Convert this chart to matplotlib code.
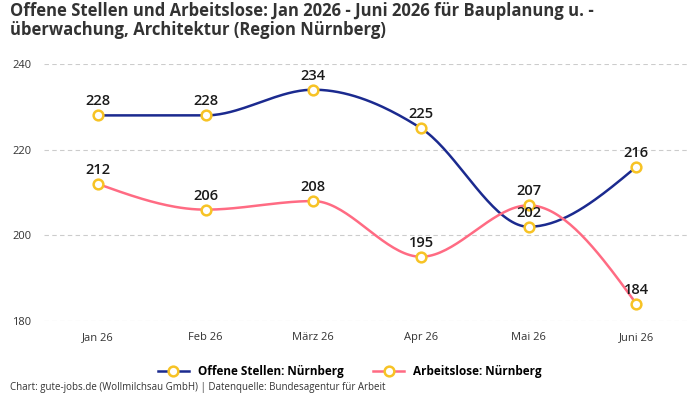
import numpy as np
import matplotlib.pyplot as plt
from matplotlib.lines import Line2D

plt.rcParams['font.family'] = ['Open Sans', 'DejaVu Sans']

months = ['Jan 26', 'Feb 26', 'März 26', 'Apr 26', 'Mai 26', 'Juni 26']
offene = [228, 228, 234, 225, 202, 216]
arbeitslose = [212, 206, 208, 195, 207, 184]

c_off = '#1b2a8f'
c_arb = '#ff6b83'
c_mark = '#f7c325'


def monotone(y):
    # d3 curveMonotoneX style tangents, sampled as cubic hermite
    y = np.asarray(y, float)
    n = len(y)
    s = np.diff(y)
    t = np.zeros(n)
    for i in range(1, n - 1):
        s0, s1 = s[i - 1], s[i]
        p = (s0 + s1) / 2
        t[i] = (np.sign(s0) + np.sign(s1)) * min(abs(s0), abs(s1), 0.5 * abs(p))
    t[0] = (3 * s[0] - t[1]) / 2 if n > 2 else s[0]
    t[-1] = (3 * s[-1] - t[-2]) / 2 if n > 2 else s[-1]
    xs, ys = [], []
    for i in range(n - 1):
        u = np.linspace(0, 1, 40)
        h00 = 2 * u**3 - 3 * u**2 + 1
        h10 = u**3 - 2 * u**2 + u
        h01 = -2 * u**3 + 3 * u**2
        h11 = u**3 - u**2
        xs.append(i + u)
        ys.append(h00 * y[i] + h10 * t[i] + h01 * y[i + 1] + h11 * t[i + 1])
    return np.concatenate(xs), np.concatenate(ys)


fig = plt.figure(figsize=(7, 4), dpi=100)
ax = fig.add_axes([0.063, 0.1975, 0.923, 0.6425])

x = np.arange(len(months))
for vals, col in [(offene, c_off), (arbeitslose, c_arb)]:
    sx, sy = monotone(vals)
    ax.plot(sx, sy, color=col, lw=1.8, zorder=2)
    ax.plot(x, vals, 'o', ms=7, mfc='white', mec=c_mark, mew=1.8, zorder=3)
    for xi, v in zip(x, vals):
        ax.annotate(str(v), (xi, v), xytext=(0, 5), textcoords='offset points',
                    ha='center', va='bottom', fontsize=10.5, color='#1a1a1a',
                    fontweight='semibold', zorder=4)

ax.set_xlim(-0.5, len(months) - 0.5)
ax.set_ylim(180, 240)
ax.set_yticks([180, 200, 220, 240])
ax.set_xticks(x)
ax.set_xticklabels(months)
ax.tick_params(axis='both', length=0, labelsize=8, labelcolor='#333333')
ax.tick_params(axis='x', pad=8)
for lab in ax.get_yticklabels():
    lab.set_horizontalalignment('left')
ax.tick_params(axis='y', pad=23)
ax.grid(axis='y', color='#cccccc', ls=(0, (4, 3)), lw=0.8)
for sp in ax.spines.values():
    sp.set_visible(False)

fig.text(0.014, 0.995, 'Offene Stellen und Arbeitslose: Jan 2026 - Juni 2026 für Bauplanung u. -\n'
         'überwachung, Architektur (Region Nürnberg)', ha='left', va='top',
         fontsize=12, fontweight='bold', color='#333333', linespacing=1.1)

handles = [
    Line2D([], [], color=c_off, lw=1.8, marker='o', ms=7, mfc='white', mec=c_mark, mew=1.8),
    Line2D([], [], color=c_arb, lw=1.8, marker='o', ms=7, mfc='white', mec=c_mark, mew=1.8),
]
fig.legend(handles, ['Offene Stellen: Nürnberg', 'Arbeitslose: Nürnberg'], loc='center',
           bbox_to_anchor=(0.5, 0.072), ncol=2, frameon=False,
           handlelength=2.6, columnspacing=2.5, prop={'weight': 'bold', 'size': 8.5})

fig.text(0.014, 0.017, 'Chart: gute-jobs.de (Wollmilchsau GmbH) | Datenquelle: Bundesagentur für Arbeit',
         ha='left', va='bottom', fontsize=7, color='#333333')

fig.savefig('out.png', dpi=100)
